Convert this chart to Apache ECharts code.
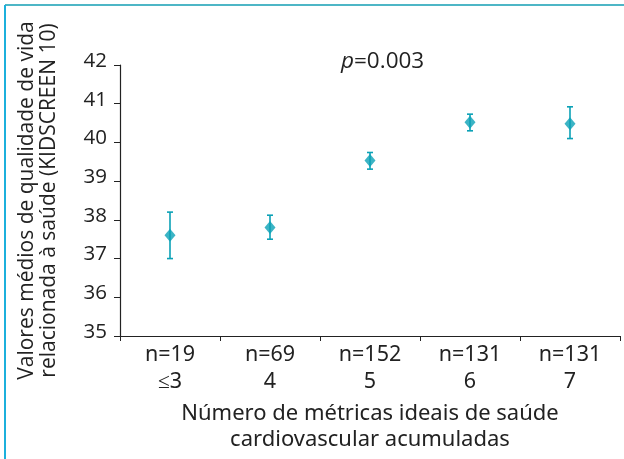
<!DOCTYPE html>
<html>
<head>
<meta charset="utf-8">
<script src="https://cdn.jsdelivr.net/npm/echarts@6/dist/echarts.min.js"></script>
<style>html,body{margin:0;padding:0;background:#fff}#c{width:624px;height:459px}</style>
</head>
<body>
<div id="c"></div>
<script>
const categories = ['n=19\n≤3', 'n=69\n4', 'n=152\n5', 'n=131\n6', 'n=131\n7'];
const means = [37.6, 37.8, 39.53, 40.52, 40.48];
const lower = [37.0, 37.5, 39.31, 40.30, 40.10];
const upper = [38.2, 38.12, 39.74, 40.73, 40.92];
const yTicks = [35, 36, 37, 38, 39, 40, 41, 42];

const color = '#0ba1b6';
const chart = echarts.init(document.getElementById('c'));
const errData = categories.map((c, i) => [i, lower[i], upper[i]]);
chart.setOption({
  animation: false,
  grid: {left: 120, top: 65, right: 4, bottom: 123, containLabel: false},
  title: {
    text: '{i|p}=0.003',
    left: 336, top: 45,
    textStyle: {
      fontFamily: 'Open Sans', fontSize: 22.5, fontWeight: 'normal', color: '#222',
      rich: {i: {fontFamily: 'Open Sans', fontSize: 22.5, fontStyle: 'italic', color: '#222'}}
    }
  },
  xAxis: {
    type: 'category',
    data: categories,
    boundaryGap: true,
    axisLine: {lineStyle: {color: '#222', width: 1.2}},
    axisTick: {show: true, length: 5, lineStyle: {color: '#222'}},
    axisLabel: {fontFamily: 'Noto Sans', fontSize: 21.5, color: '#222', lineHeight: 27.5, margin: 5, interval: 0},
    name: 'Número de métricas ideais de saúde\ncardiovascular acumuladas',
    nameLocation: 'middle',
    nameGap: 56,
    nameTextStyle: {fontFamily: 'Noto Sans', fontSize: 22, color: '#222', lineHeight: 26, verticalAlign: 'top'}
  },
  yAxis: {
    type: 'value',
    min: 35, max: 42, interval: 1,
    axisLine: {show: true, lineStyle: {color: '#222', width: 1.2}},
    axisTick: {show: true, length: 6, lineStyle: {color: '#222'}},
    splitLine: {show: false},
    axisLabel: {fontFamily: 'Open Sans', fontSize: 20.5, color: '#222', margin: 13,
      verticalAlign: 'bottom', lineHeight: 8,
      formatter: v => yTicks.includes(v) ? String(v) : ''},
    name: 'Valores médios de qualidade de vida\nrelacionada à saúde (KIDSCREEN 10)',
    nameLocation: 'middle',
    nameGap: 60,
    nameTextStyle: {fontFamily: 'Open Sans', fontSize: 21, color: '#222', lineHeight: 22}
  },
  graphic: [
    {type: 'line', shape: {x1: 5, y1: 5, x2: 624, y2: 5}, style: {stroke: '#4db6c6', lineWidth: 2}},
    {type: 'line', shape: {x1: 5, y1: 5, x2: 5, y2: 459}, style: {stroke: '#1cb0dc', lineWidth: 2}}
  ],
  series: [
    {
      type: 'custom',
      data: errData,
      renderItem: function (params, api) {
        const lo = api.coord([api.value(0), api.value(1)]);
        const hi = api.coord([api.value(0), api.value(2)]);
        const w = 3;
        const st = {stroke: color, lineWidth: 1.6};
        return {type: 'group', children: [
          {type: 'line', shape: {x1: lo[0], y1: lo[1], x2: hi[0], y2: hi[1]}, style: st},
          {type: 'line', shape: {x1: lo[0] - w, y1: lo[1], x2: lo[0] + w, y2: lo[1]}, style: st},
          {type: 'line', shape: {x1: hi[0] - w, y1: hi[1], x2: hi[0] + w, y2: hi[1]}, style: st}
        ]};
      },
      z: 2
    },
    {
      type: 'scatter',
      data: means,
      symbol: 'diamond',
      symbolSize: [11, 13],
      itemStyle: {color: color},
      z: 3
    }
  ]
});
</script>
</body>
</html>
